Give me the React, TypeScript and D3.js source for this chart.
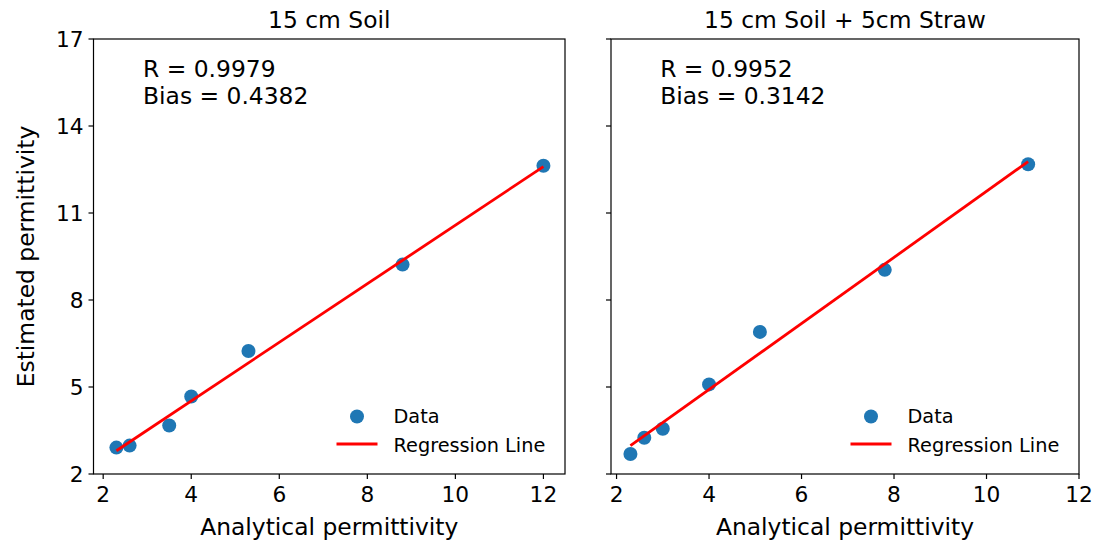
import * as d3 from "d3";

// values
const soilX = [2.3, 2.6, 3.5, 4.0, 5.3, 8.8, 12.0];
const soilY = [2.91, 2.98, 3.67, 4.67, 6.24, 9.22, 12.63];
const strawX = [2.3, 2.6, 3.0, 4.0, 5.1, 7.8, 10.9];
const strawY = [2.69, 3.25, 3.56, 5.09, 6.9, 9.04, 12.68];
const soilFit = [1.01, 0.48]; // slope, intercept
const strawFit = [1.139, 0.357];
const titles = ["15 cm Soil", "15 cm Soil + 5cm Straw"];
const stats = [
  ["R = 0.9979", "Bias = 0.4382"],
  ["R = 0.9952", "Bias = 0.3142"],
];
const xTicks = [2, 4, 6, 8, 10, 12];
const yTicks = [2, 5, 8, 11, 14, 17];

const W = 1097, H = 544;
const top = 39, bottom = 474;
const font = "DejaVu Sans";
const blue = "#1f77b4";
const big = 23.4;
const tickSize = 21.7;
const legendSize = 19.3;

const Panel = ({x0, x1, xDomain, xs, ys, fit, title, lines, showYLabels}) => {
  const x = d3.scaleLinear().domain(xDomain).range([x0, x1]);
  const y = d3.scaleLinear().domain([2, 17]).range([bottom, top]);
  const lo = d3.min(xs), hi = d3.max(xs);
  const fitLine = d3.line().x(d => x(d[0])).y(d => y(d[1]))(
    [[lo, fit[0] * lo + fit[1]], [hi, fit[0] * hi + fit[1]]]
  );
  const w = x1 - x0;
  return (
    <g>
      {xs.map((v, i) => (
        <circle key={i} cx={x(v)} cy={y(ys[i])} r={7} fill={blue} />
      ))}
      <path d={fitLine} stroke="#ff0000" strokeWidth={2.8} fill="none" />
      <rect x={x0} y={top} width={w} height={bottom - top} fill="none" stroke="#000" strokeWidth={1.2} />
      {xTicks.map(t => (
        <g key={t}>
          <line x1={x(t)} x2={x(t)} y1={bottom} y2={bottom + 5} stroke="#000" strokeWidth={1.2} />
          <text x={x(t)} y={bottom + 28} textAnchor="middle" fontSize={tickSize} fontFamily={font}>{t}</text>
        </g>
      ))}
      {yTicks.map(t => (
        <g key={t}>
          <line x1={x0 - 5} x2={x0} y1={y(t)} y2={y(t)} stroke="#000" strokeWidth={1.2} />
          {showYLabels && (
            <text x={x0 - 10} y={y(t) + 8} textAnchor="end" fontSize={tickSize} fontFamily={font}>{t}</text>
          )}
        </g>
      ))}
      <text x={x0 + w / 2} y={28} textAnchor="middle" fontSize={big} fontFamily={font}>{title}</text>
      <text x={x0 + w / 2} y={535} textAnchor="middle" fontSize={big} fontFamily={font}>Analytical permittivity</text>
      <text x={x0 + 0.105 * w} y={77} fontSize={big} fontFamily={font}>{lines[0]}</text>
      <text x={x0 + 0.105 * w} y={104} fontSize={big} fontFamily={font}>{lines[1]}</text>
      {/* legend */}
      <circle cx={x1 - 208} cy={bottom - 57.5} r={7} fill={blue} />
      <text x={x1 - 171.5} y={bottom - 51.5} fontSize={legendSize} fontFamily={font}>Data</text>
      <line x1={x1 - 228.5} x2={x1 - 187.5} y1={bottom - 30} y2={bottom - 30} stroke="#ff0000" strokeWidth={2.8} />
      <text x={x1 - 171.5} y={bottom - 22.3} fontSize={legendSize} fontFamily={font}>Regression Line</text>
    </g>
  );
};

const App = () => {
  return (
    <svg width={W} height={H} style={{position: "absolute", left: 0, top: 0, background: "#fff"}}>
      <rect width={W} height={H} fill="#fff" />
      <Panel x0={93.5} x1={565} xDomain={[1.78, 12.49]} xs={soilX} ys={soilY} fit={soilFit}
             title={titles[0]} lines={stats[0]} showYLabels={true} />
      <Panel x0={611} x1={1079} xDomain={[1.88, 12]} xs={strawX} ys={strawY} fit={strawFit}
             title={titles[1]} lines={stats[1]} showYLabels={false} />
      <text transform={`translate(34, ${(top + bottom) / 2}) rotate(-90)`} textAnchor="middle"
            fontSize={big} fontFamily={font}>Estimated permittivity</text>
    </svg>
  );
};

export default App;
